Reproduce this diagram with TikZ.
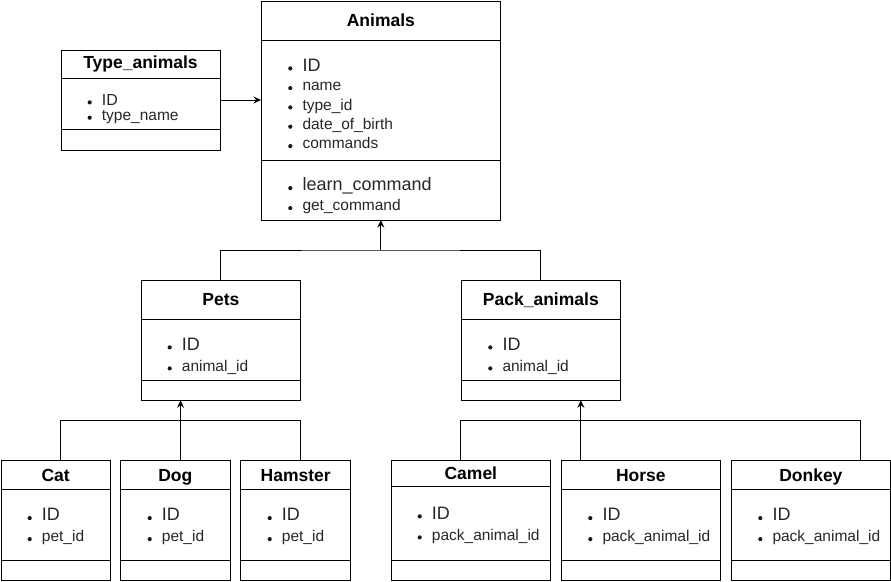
\documentclass[tikz,border=0pt]{standalone}
\usepackage{fontspec}
\setmainfont{Liberation Sans}
\usetikzlibrary{arrows.meta}
\tikzset{
  box/.style={draw, line width=1pt, rectangle, inner sep=0pt, outer sep=0pt},
  sepline/.style={line width=1pt},
  ttl/.style={font=\fontsize{17.5}{20}\selectfont\bfseries, inner sep=0pt, anchor=base},
  bigf/.style={font=\fontsize{18}{20}\selectfont, text=black!85, inner sep=0pt, anchor=base west},
  midf/.style={font=\fontsize{16}{18}\selectfont, text=black!85, inner sep=0pt, anchor=base west},
  smlf/.style={font=\fontsize{15.5}{18}\selectfont, text=black!85, inner sep=0pt, anchor=base west},
  bdot/.style={circle, fill=black!90, inner sep=0pt, minimum size=4.2pt},
  conn/.style={line width=1pt},
  arr/.style={line width=1pt, -{Stealth[length=7.5pt,width=7pt,inset=2.5pt]}},
}
% #1 name, #2 x, #3 y, #4 w, #5 h, #6 title sep, #7 field sep, #8 title baseline, #9 title
\newcommand\umlbox[9]{%
  \node[box, minimum width=#4pt, minimum height=#5pt, anchor=north west] (#1) at (#2,#3) {};
  \draw[sepline] ([yshift=-#6pt]#1.north west) -- ([yshift=-#6pt]#1.north east);
  \draw[sepline] ([yshift=-#7pt]#1.north west) -- ([yshift=-#7pt]#1.north east);
  \node[ttl] (#1-t) at (#1.north |- 0,#8) {#9};
}
% #1 name, #2 text x, #3 baseline, #4 style, #5 text
\newcommand\umlfld[5]{%
  \node[bdot] (#1-b) at (#2-12,#3-2.6) {};
  \node[#4] (#1) at (#2,#3) {#5};
}
\begin{document}
\begin{tikzpicture}[x=1pt,y=-1pt]
\useasboundingbox (0,0) rectangle (891,581);

% Animals
\umlbox{animals}{261}{1}{239.7}{219}{39}{159}{26}{Animals}
\umlfld{an1}{302.3}{71}{bigf}{ID}
\umlfld{an2}{302.3}{90.7}{smlf}{name}
\umlfld{an3}{302.3}{110}{smlf}{type\_id}
\umlfld{an4}{302.3}{129.3}{smlf}{date\_of\_birth}
\umlfld{an5}{302.3}{148.7}{smlf}{commands}
\umlfld{an6}{302.3}{190.7}{bigf}{learn\_command}
\umlfld{an7}{302.3}{210.7}{smlf}{get\_command}

% Type_animals
\umlbox{types}{61}{50}{159}{100}{28.3}{79.3}{68.3}{Type\_animals}
\umlfld{ty1}{101.7}{105}{midf}{ID}
\umlfld{ty2}{101.7}{120.3}{smlf}{type\_name}

% Pets
\umlbox{pets}{141}{280.7}{159.7}{119.6}{38.6}{99.6}{305.7}{Pets}
\umlfld{pe1}{181.7}{350}{bigf}{ID}
\umlfld{pe2}{181.7}{371}{smlf}{animal\_id}

% Pack_animals
\umlbox{pack}{461}{280.7}{159.7}{119.6}{38.6}{99.6}{305.7}{Pack\_animals}
\umlfld{pa1}{502.3}{350}{bigf}{ID}
\umlfld{pa2}{502.3}{371}{smlf}{animal\_id}

% Cat, Dog, Hamster
\umlbox{cat}{1}{460.7}{109.3}{119.6}{28.3}{99.6}{481}{Cat}
\umlfld{ca1}{41.7}{520.7}{bigf}{ID}
\umlfld{ca2}{41.7}{541.7}{smlf}{pet\_id}
\umlbox{dog}{120.7}{460.7}{109.3}{119.6}{28.3}{99.6}{481}{Dog}
\umlfld{do1}{161.7}{520.7}{bigf}{ID}
\umlfld{do2}{161.7}{541.7}{smlf}{pet\_id}
\umlbox{hamster}{240.7}{460.7}{110}{119.6}{28.3}{99.6}{481}{Hamster}
\umlfld{ha1}{281.7}{520.7}{bigf}{ID}
\umlfld{ha2}{281.7}{541.7}{smlf}{pet\_id}

% Camel, Horse, Donkey
\umlbox{camel}{391}{460.7}{159.7}{119.6}{25.3}{99.6}{479}{Camel}
\umlfld{cm1}{431.7}{519}{bigf}{ID}
\umlfld{cm2}{431.7}{540}{smlf}{pack\_animal\_id}
\umlbox{horse}{561}{460.7}{159.7}{119.6}{28.3}{99.6}{481}{Horse}
\umlfld{ho1}{602.3}{520.7}{bigf}{ID}
\umlfld{ho2}{602.3}{541.7}{smlf}{pack\_animal\_id}
\umlbox{donkey}{731}{460.7}{159.7}{119.6}{28.3}{99.6}{481}{Donkey}
\umlfld{dk1}{772.3}{520.7}{bigf}{ID}
\umlfld{dk2}{772.3}{541.7}{smlf}{pack\_animal\_id}

% connectors
\draw[arr] (types.east) -- (types.east -| animals.west);

\coordinate (j1) at ([yshift=-30pt]animals.south);
\draw[conn] (pets.north) |- (j1) -| (pack.north);
\draw[arr] (j1) -- (animals.south);

\draw[conn] ([xshift=4.8pt]cat.north) -- ++(0,-40) -| ([xshift=5pt]hamster.north);
\draw[arr] ([xshift=5.2pt]dog.north) -- ([xshift=5.2pt]dog.north |- pets.south);

\draw[conn] ([xshift=-10.5pt]camel.north) -- ++(0,-40) -| ([xshift=50pt]donkey.north);
\draw[arr] ([xshift=-60pt]horse.north) -- ([xshift=-60pt]horse.north |- pack.south);
\end{tikzpicture}
\end{document}
